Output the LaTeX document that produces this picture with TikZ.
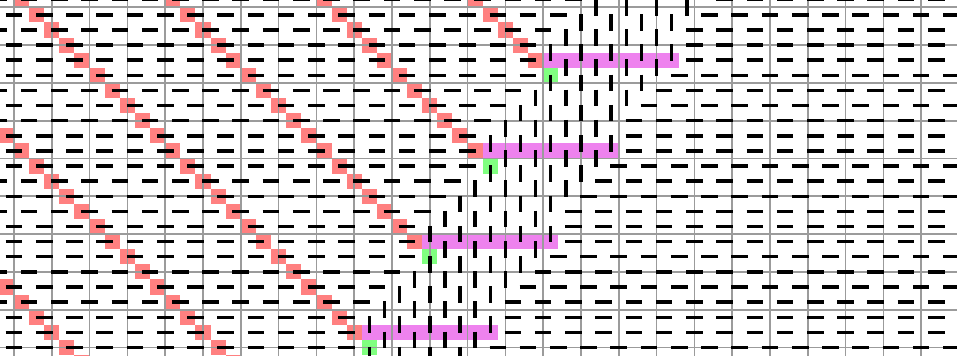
\documentclass[tikz,border=0pt]{standalone}
\usetikzlibrary{positioning}
\definecolor{cellred}{RGB}{255,128,128}
\definecolor{cellpink}{RGB}{238,130,238}
\definecolor{cellgreen}{RGB}{128,255,128}
\definecolor{gridgray}{RGB}{155,155,155}

\begin{document}
\begin{tikzpicture}[x=4mm,y=-4mm,
  gridline/.style={gridgray,line width=1.3pt},
  domino/.style={black,line width=2.6pt}]
\useasboundingbox (-0.926,-0.483) rectangle (62.37,23.06);
\clip (-0.926,-0.483) rectangle (62.37,23.06);
\fill[white] (-1,-1) rectangle (63,24);
% coloured cells, one period of six rows repeated
\foreach \n in {-1,...,3}{
  \begin{scope}[shift={(-4*\n,6*\n)}]
    \foreach \r in {3,...,8}
      \foreach \j in {0,...,3}
        \fill[cellred] ({\r+21-10*\j},\r) rectangle ++(1,1);
    \fill[cellred] (34,3) rectangle ++(1,1);
    \fill[cellpink] (35,3) rectangle (44,4);
    \fill[cellgreen] (35,4) rectangle ++(1,1);
  \end{scope}
}
\draw[gridline] (-2,-1) grid (64,25);
% dominoes
\foreach \n in {-1,...,3}{
  \begin{scope}[shift={(-4*\n,6*\n)}]
    \foreach \r/\ks in {3/{-6,-4,...,34,45,47,...,77},
                        4/{-6,-4,...,34,44,46,...,76},
                        5/{-5,-3,...,33,43,45,...,77},
                        6/{-6,-4,...,32,42,44,...,76},
                        7/{-5,-3,...,31,41,43,...,77},
                        8/{-6,-4,...,30,41,43,...,77}}
      \foreach \k in \ks
        \draw[domino] (\k-0.55,\r+0.5) -- (\k+0.55,\r+0.5);
    \foreach \r/\cols in {3/{36,38,...,42},
                          4/{35,37,...,41},
                          5/{34,36,...,40},
                          6/{33,35,...,39},
                          7/{32,34,...,38},
                          8/{31,33,...,39}}
      \foreach \c in \cols
        \draw[domino] (\c+0.5,\r+0.45) -- (\c+0.5,\r+1.55);
  \end{scope}
}
\end{tikzpicture}
\end{document}
